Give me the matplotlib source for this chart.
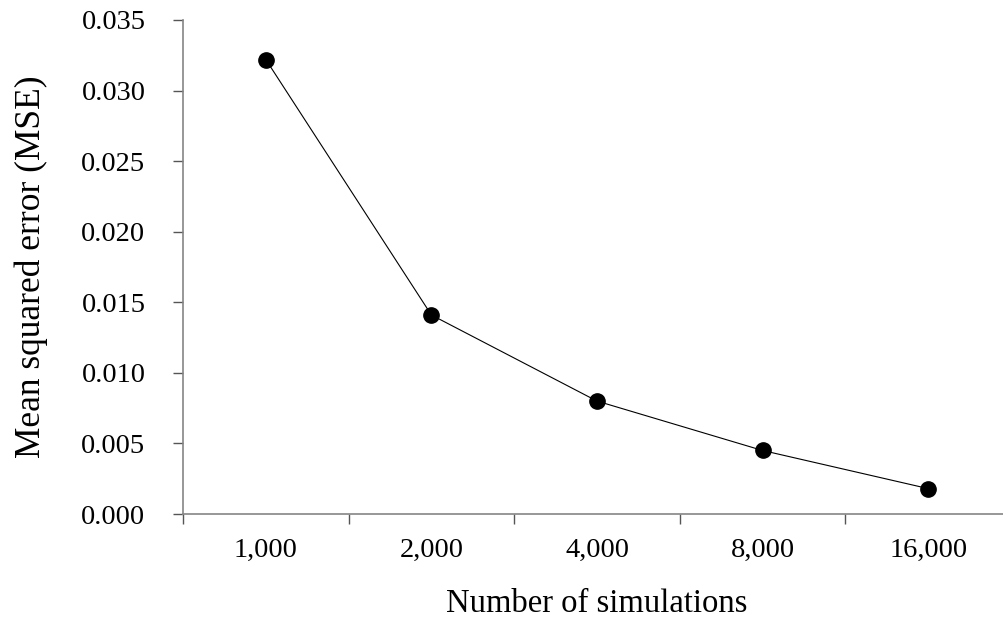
import numpy as np
import matplotlib
matplotlib.use('Agg')
from matplotlib import pyplot as plt
from matplotlib.ticker import FixedLocator

categories = ['1,000', '2,000', '4,000', '8,000', '16,000']
mse = [0.0322, 0.0141, 0.0080, 0.0045, 0.0018]
yticks = [0.000, 0.005, 0.010, 0.015, 0.020, 0.025, 0.030, 0.035]

plt.rcParams['font.family'] = ['Liberation Serif', 'DejaVu Serif']

fig = plt.figure(figsize=(10.04, 6.29), dpi=100, facecolor='white')
# axes runs a little past the right edge, as in the original
ax = fig.add_axes([183 / 1004, 1 - 514 / 629, (1011 - 183) / 1004, (514 - 20) / 629])

x = np.arange(len(categories))
ax.plot(x, mse, color='black', linewidth=0.8, marker='o', markersize=11,
        markerfacecolor='black', markeredgecolor='black')

ax.set_xlim(-0.5, len(categories) - 0.5)
ax.set_ylim(0, 0.035)
ax.set_yticks(yticks)
ax.set_yticklabels(['%.3f' % v for v in yticks])
ax.set_xticks(x)
ax.set_xticklabels(categories)
ax.xaxis.set_minor_locator(FixedLocator(np.arange(-0.5, len(categories), 1.0)))

for s in ['top', 'right']:
    ax.spines[s].set_visible(False)
for s in ['left', 'bottom']:
    ax.spines[s].set_color('#858585')
    ax.spines[s].set_linewidth(1.2)

ax.tick_params(axis='y', which='major', direction='out', length=7, width=1,
               color='#555555', labelsize=20.5, pad=20)
ax.tick_params(axis='x', which='major', length=0, labelsize=20.5, pad=17)
ax.tick_params(axis='x', which='minor', direction='out', length=7, width=1,
               color='#555555')

ax.set_xlabel('Number of simulations', fontsize=23.5, labelpad=19)
ax.set_ylabel('Mean squared error (MSE)', fontsize=25.5, labelpad=24)

fig.savefig('out.png', dpi=100, facecolor='white')
